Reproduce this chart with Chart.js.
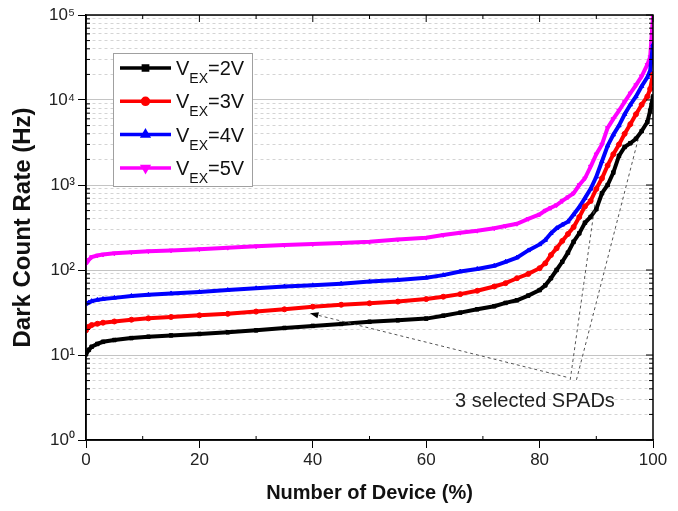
<!DOCTYPE html>
<html>
<head>
<meta charset="utf-8">
<script src="https://cdn.jsdelivr.net/npm/chart.js@4.4.0/dist/chart.umd.min.js"></script>
<style>
  html, body { margin: 0; padding: 0; background: #fff; }
  #wrap { width: 678px; height: 511px; }
</style>
</head>
<body>
<div id="wrap"><canvas id="dcr" width="678" height="511"></canvas></div>
<script>
"use strict";

// percentage of devices (sorted), shared by all four curves
const DEVICE_PCT = [0, 0.5, 1, 2, 3, 5, 8, 11, 15, 20, 25, 30, 35, 40, 45, 50, 55, 60, 63, 66,
                    69, 72, 74, 76, 78, 80, 81, 82, 83, 84, 85, 86, 87, 88, 89, 90, 91, 92, 93,
                    94, 95, 96, 97, 98, 99, 99.5, 100];

// dark count rate in Hz
const DCR_2V = [10.2, 11.5, 12.5, 13.5, 14.3, 15.0, 15.8, 16.4, 17.0, 17.7, 18.5, 19.5, 20.8, 22.0,
                23.2, 24.6, 25.6, 26.8, 29.0, 31.5, 34.5, 37.5, 41, 44, 50, 58, 66, 80, 100, 125,
                160, 215, 270, 360, 420, 520, 800, 1000, 1400, 2200, 2800, 3100, 3500, 4300, 5500,
                7500, 11000];
const DCR_3V = [19.5, 21.5, 22.5, 23.3, 24, 24.8, 26, 27, 28, 29.3, 30.5, 32.5, 34.5, 37, 39, 40.6,
                42.5, 45.5, 48.5, 52, 57, 64, 70, 80, 90, 105, 120, 150, 180, 220, 265, 320, 420,
                560, 650, 900, 1200, 1700, 2300, 3000, 4000, 5200, 6800, 8800, 11000, 13500, 20000];
const DCR_4V = [40, 41.5, 43, 44.5, 45.5, 47, 49.5, 51, 53, 55, 58, 61, 64, 66, 69, 73, 76.5, 81,
                87, 96, 103, 112, 125, 140, 170, 200, 225, 270, 310, 340, 370, 450, 550, 700, 900,
                1250, 1900, 2900, 3900, 5000, 6800, 8800, 11000, 14500, 18500, 22000, 45000];
const DCR_5V = [118, 132, 142, 148, 152, 157, 162, 166, 170, 176, 183, 190, 197, 202, 208, 215, 228,
                240, 258, 275, 290, 310, 330, 350, 400, 450, 500, 540, 580, 650, 720, 800, 1000,
                1200, 1650, 2300, 3000, 4700, 6000, 7500, 9500, 12000, 15000, 19000, 26000, 32000,
                95000];

const SERIES_VOLTS = ["2V", "3V", "4V", "5V"];
const SERIES_COLORS = ["#000000", "#ff0000", "#0000ff", "#ff00ff"];

const X_TICKS = [0, 20, 40, 60, 80, 100];
const Y_EXPONENTS = [0, 1, 2, 3, 4, 5];

// "3 selected SPADs" pointer lines, [x %, Hz] from -> to
const NOTE_TEXT = "3 selected SPADs";
const NOTE_POS = [65.1, 2.44];
const NOTE_LINES = [
  [[84.7, 5.5], [39.5, 31]],
  [[85.4, 5.1], [89.8, 614]],
  [[86.5, 5.1], [97.35, 3390]]
];

const SUP = "⁰¹²³⁴⁵⁶⁷⁸⁹";
const MARKERS = [
  {style: "rect", rotation: 0},
  {style: "circle", rotation: 0},
  {style: "triangle", rotation: 0},
  {style: "triangle", rotation: 180}
];
const FONT = "'Liberation Sans', Arial, sans-serif";

function isDecade(v) {
  const e = Math.log10(v);
  return Math.abs(e - Math.round(e)) < 1e-9;
}

function strokeLine(ctx, x1, y1, x2, y2) {
  ctx.beginPath();
  ctx.moveTo(x1, y1);
  ctx.lineTo(x2, y2);
  ctx.stroke();
}

// box frame with inner ticks like the original plot
const frameTicks = {
  id: "frameTicks",
  afterDatasetsDraw(chart) {
    const {ctx, chartArea: a, scales: {x, y}} = chart;
    ctx.save();
    ctx.strokeStyle = "#000";
    ctx.lineWidth = 1;
    for (const t of y.ticks) {
      const py = y.getPixelForValue(t.value);
      const major = isDecade(t.value);
      const len = major ? 7 : 4;
      strokeLine(ctx, a.right - len, py, a.right, py);
      if (!major) {
        strokeLine(ctx, a.left, py, a.left + len, py);
      }
    }
    for (const t of x.ticks) {
      const px = x.getPixelForValue(t.value);
      const major = t.value % 20 === 0;
      const len = major ? 7 : 4;
      strokeLine(ctx, px, a.top, px, a.top + len);
      if (!major) {
        strokeLine(ctx, px, a.bottom, px, a.bottom - len);
      }
    }
    ctx.lineWidth = 1.5;
    ctx.strokeRect(a.left, a.top, a.right - a.left, a.bottom - a.top);
    ctx.restore();
  }
};

const noteLines = {
  id: "noteLines",
  afterDatasetsDraw(chart) {
    const {ctx, scales: {x, y}} = chart;
    ctx.save();
    ctx.strokeStyle = "#555";
    ctx.lineWidth = 1;
    ctx.setLineDash([3, 3]);
    for (const [from, to] of NOTE_LINES) {
      strokeLine(ctx, x.getPixelForValue(from[0]), y.getPixelForValue(from[1]),
                 x.getPixelForValue(to[0]), y.getPixelForValue(to[1]));
    }
    ctx.setLineDash([]);
    // small arrow head on the first pointer
    const [f, t] = NOTE_LINES[0];
    const x1 = x.getPixelForValue(f[0]), y1 = y.getPixelForValue(f[1]);
    const x2 = x.getPixelForValue(t[0]), y2 = y.getPixelForValue(t[1]);
    const ang = Math.atan2(y2 - y1, x2 - x1);
    ctx.fillStyle = "#000";
    ctx.beginPath();
    ctx.moveTo(x2, y2);
    ctx.lineTo(x2 - 9 * Math.cos(ang - 0.35), y2 - 9 * Math.sin(ang - 0.35));
    ctx.lineTo(x2 - 9 * Math.cos(ang + 0.35), y2 - 9 * Math.sin(ang + 0.35));
    ctx.closePath();
    ctx.fill();
    ctx.font = "20px " + FONT;
    ctx.fillStyle = "#222";
    ctx.textAlign = "left";
    ctx.textBaseline = "alphabetic";
    ctx.fillText(NOTE_TEXT, x.getPixelForValue(NOTE_POS[0]), y.getPixelForValue(NOTE_POS[1]));
    ctx.restore();
  }
};

// legend with V_EX subscripts
const vexLegend = {
  id: "vexLegend",
  afterDraw(chart) {
    const {ctx, chartArea: a} = chart;
    const left = a.left + 27, top = a.top + 38;
    const w = 139, h = 133;
    ctx.save();
    ctx.fillStyle = "#fff";
    ctx.fillRect(left, top, w, h);
    ctx.strokeStyle = "#a0a0a0";
    ctx.lineWidth = 1;
    ctx.strokeRect(left + 0.5, top + 0.5, w, h);
    chart.data.datasets.forEach((ds, i) => {
      const cy = top + 15 + i * 33.3;
      ctx.strokeStyle = ds.borderColor;
      ctx.lineWidth = 3.5;
      strokeLine(ctx, left + 7, cy, left + 58, cy);
      ctx.fillStyle = ds.borderColor;
      Chart.helpers.drawPoint(ctx, {pointStyle: MARKERS[i].style, rotation: MARKERS[i].rotation,
                                    radius: 3, borderWidth: 1}, left + 32.5, cy);
      ctx.fillStyle = "#111";
      ctx.textBaseline = "alphabetic";
      ctx.textAlign = "left";
      let tx = left + 63;
      ctx.font = "20px " + FONT;
      ctx.fillText("V", tx, cy + 7);
      tx += ctx.measureText("V").width;
      ctx.font = "14px " + FONT;
      ctx.fillText("EX", tx, cy + 15);
      tx += ctx.measureText("EX").width;
      ctx.font = "20px " + FONT;
      ctx.fillText("=" + SERIES_VOLTS[i], tx, cy + 7);
    });
    ctx.restore();
  }
};

const seriesValues = [DCR_2V, DCR_3V, DCR_4V, DCR_5V];
const datasets = seriesValues.map((vals, i) => ({
  label: "VEX=" + SERIES_VOLTS[i],
  data: DEVICE_PCT.map((p, k) => ({x: p, y: vals[k]})),
  borderColor: SERIES_COLORS[i],
  backgroundColor: SERIES_COLORS[i],
  borderWidth: 4,
  pointStyle: MARKERS[i].style,
  pointRotation: MARKERS[i].rotation,
  pointRadius: 2.5,
  pointBorderWidth: 1,
  tension: 0
}));

const yTickValues = [];
for (let e = Y_EXPONENTS[0]; e < Y_EXPONENTS[Y_EXPONENTS.length - 1]; e++) {
  for (let m = 1; m < 10; m++) {
    yTickValues.push(m * Math.pow(10, e));
  }
}
yTickValues.push(Math.pow(10, Y_EXPONENTS[Y_EXPONENTS.length - 1]));

Chart.defaults.font.family = FONT;

new Chart(document.getElementById("dcr").getContext("2d"), {
  type: "line",
  data: {datasets: datasets},
  options: {
    responsive: false,
    animation: false,
    devicePixelRatio: 1,
    layout: {padding: {top: 15, right: 25, left: 0, bottom: 0}},
    plugins: {legend: {display: false}, tooltip: {enabled: false}},
    scales: {
      x: {
        type: "linear",
        min: 0,
        max: 100,
        afterFit(scale) { scale.height = 71; },
        afterBuildTicks(scale) {
          const t = [];
          for (let v = 0; v <= 100; v += 10) t.push({value: v});
          scale.ticks = t;
        },
        ticks: {
          autoSkip: false,
          maxRotation: 0,
          padding: 2,
          color: "#222",
          font: {size: 17},
          callback: (v) => X_TICKS.includes(v) ? String(v) : ""
        },
        grid: {
          drawOnChartArea: false,
          tickLength: 8,
          tickWidth: 1,
          tickColor: (c) => c.tick && c.tick.value % 20 === 0 ? "#000" : "rgba(0,0,0,0)"
        },
        border: {color: "#000", width: 1.5},
        title: {
          display: true,
          text: "Number of Device (%)",
          color: "#111",
          font: {size: 20, weight: "bold"},
          padding: {top: 0, bottom: 6}
        }
      },
      y: {
        type: "logarithmic",
        min: 1,
        max: 100000,
        afterFit(scale) { scale.width = 86; },
        afterBuildTicks(scale) {
          scale.ticks = yTickValues.map((v) => ({value: v}));
        },
        ticks: {
          autoSkip: false,
          padding: 3,
          color: "#222",
          font: {size: 17},
          callback: (v) => isDecade(v) ? "10" + SUP[Math.round(Math.log10(v))] : ""
        },
        grid: {
          drawOnChartArea: true,
          tickLength: 8,
          color: (c) => c.tick && isDecade(c.tick.value) ? "#c4c4c4" : "#d4d4d4",
          lineWidth: 1,
          tickColor: (c) => c.tick && isDecade(c.tick.value) ? "#000" : "rgba(0,0,0,0)"
        },
        border: {
          color: "#000",
          width: 1.5,
          dash: (c) => c.tick && !isDecade(c.tick.value) ? [3, 3] : []
        },
        title: {
          display: true,
          text: "Dark Count Rate (Hz)",
          color: "#111",
          font: {size: 24, weight: "bold"},
          padding: {top: 9, bottom: 0}
        }
      }
    }
  },
  plugins: [frameTicks, noteLines, vexLegend]
});
</script>
</body>
</html>
